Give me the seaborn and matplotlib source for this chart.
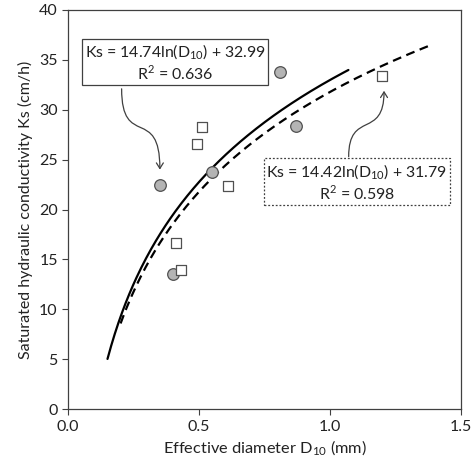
import numpy as np
import pandas as pd
import matplotlib
matplotlib.use("Agg")
import matplotlib.pyplot as plt
from matplotlib.path import Path
from matplotlib.patches import FancyArrowPatch
import seaborn as sns

# measured points (D10 mm, Ks cm/h)
circle_d10 = [0.35, 0.40, 0.55, 0.81, 0.87]
circle_ks = [22.5, 13.5, 23.8, 33.8, 28.4]
square_d10 = [0.41, 0.43, 0.49, 0.51, 0.61, 1.20]
square_ks = [16.6, 13.9, 26.6, 28.3, 22.4, 33.4]

# log fits: Ks = a*ln(D10) + b
fit_solid = [14.74, 32.99]
fit_dash = [14.42, 31.79]
solid_range = [0.15, 1.07]
dash_range = [0.20, 1.39]

sns.set_theme(style="ticks")
plt.rcParams["font.family"] = ["Lato", "DejaVu Sans"]
plt.rcParams["mathtext.fontset"] = "custom"
plt.rcParams["mathtext.rm"] = "Lato"

fig = plt.figure(figsize=(4.77, 4.67), dpi=100)
ax = fig.add_axes([0.143, 0.124, 0.8235, 0.8546])

pts = pd.DataFrame({
    "D10": circle_d10 + square_d10,
    "Ks": circle_ks + square_ks,
    "set": ["circle"] * len(circle_d10) + ["square"] * len(square_d10),
})

for a_b, rng, ls in [(fit_solid, solid_range, "-"), (fit_dash, dash_range, (0, (4, 2.5)))]:
    xs = np.linspace(rng[0], rng[1], 200)
    ys = a_b[0] * np.log(xs) + a_b[1]
    sns.lineplot(x=xs, y=ys, ax=ax, color="black", lw=1.6, linestyle=ls)

sns.scatterplot(data=pts[pts["set"] == "circle"], x="D10", y="Ks", ax=ax,
                marker="o", s=70, color="#b4b4b4", edgecolor="#505050",
                linewidth=0.9, zorder=3)
sns.scatterplot(data=pts[pts["set"] == "square"], x="D10", y="Ks", ax=ax,
                marker="s", s=55, color="white", edgecolor="#505050",
                linewidth=0.9, zorder=3)

ax.set_xlim(0, 1.5)
ax.set_ylim(0, 40)
ax.set_xticks([0, 0.5, 1.0, 1.5])
ax.set_xticklabels(["0.0", "0.5", "1.0", "1.5"])
ax.set_yticks(range(0, 41, 5))
ax.tick_params(direction="out", length=4, width=0.8, colors="#404040",
               labelsize=11.5, labelcolor="#222222")
for sp in ax.spines.values():
    sp.set_visible(True)
    sp.set_color("#404040")
    sp.set_linewidth(0.9)

ax.set_xlabel("Effective diameter D$_{10}$ (mm)", fontsize=11.8, color="#222222")
ax.set_ylabel("Saturated hydraulic conductivity Ks (cm/h)", fontsize=11.5,
              color="#222222")

ax.text(0.409, 34.7, "Ks = 14.74ln(D$_{10}$) + 32.99\nR$^2$ = 0.636",
        ha="center", va="center", fontsize=11.4, color="#222222",
        linespacing=1.1,
        bbox=dict(boxstyle="square,pad=0.17", fc="white", ec="#404040", lw=0.9))
ax.text(1.102, 22.7, "Ks = 14.42ln(D$_{10}$) + 31.79\nR$^2$ = 0.598",
        ha="center", va="center", fontsize=11.4, color="#222222",
        linespacing=1.1,
        bbox=dict(boxstyle="square,pad=0.17", fc="white", ec="#404040",
                  lw=0.9, linestyle=(0, (1.5, 1.5))))

# curved callout arrows
for p0, p1, p2, p3 in [
    ((0.204, 32.1), (0.204, 26.0), (0.350, 30.5), (0.350, 24.0)),
    ((1.071, 25.3), (1.071, 30.0), (1.206, 27.0), (1.206, 31.9)),
]:
    path = Path([p0, p1, p2, p3], [Path.MOVETO, Path.CURVE4, Path.CURVE4, Path.CURVE4])
    arr = FancyArrowPatch(path=path, arrowstyle="->,head_length=4,head_width=2.5",
                          color="#404040", lw=0.9)
    ax.add_patch(arr)

fig.savefig("out.png", dpi=100)
